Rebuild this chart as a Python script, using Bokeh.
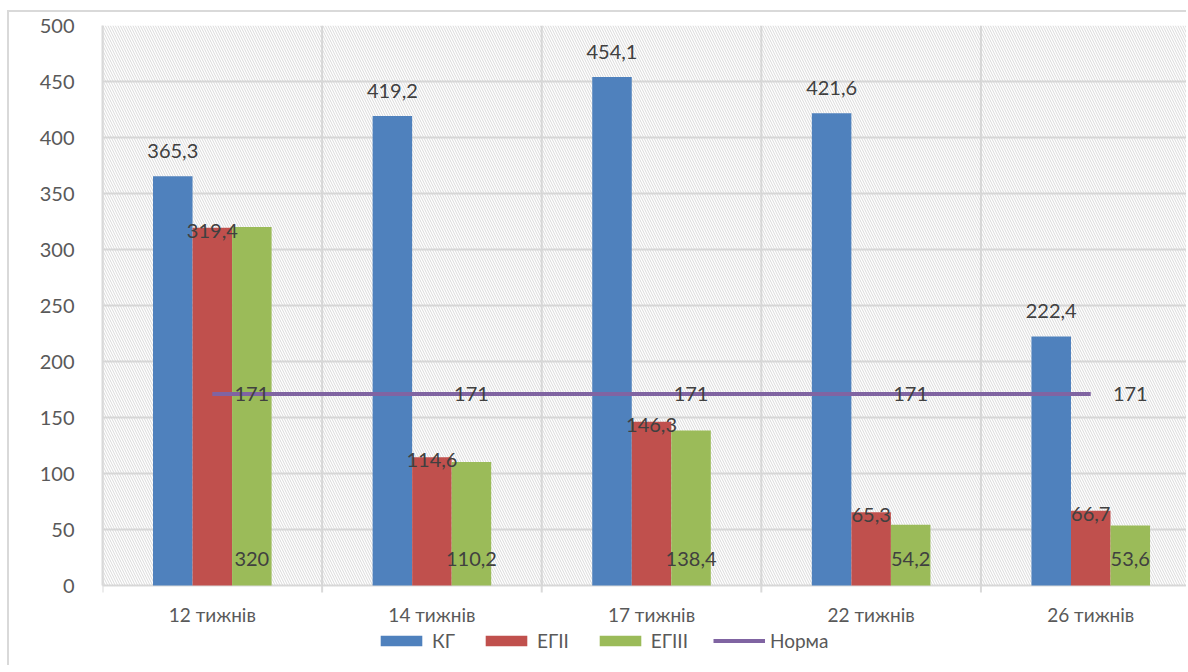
import math
from bokeh.plotting import figure
from bokeh.models import (ColumnDataSource, Range1d, FixedTicker, LabelSet, Legend,
                          LegendItem, BoxAnnotation)
from bokeh.transform import dodge
from bokeh.core.properties import value
from bokeh.embed import file_html
from bokeh.resources import INLINE

categories = ["12 тижнів", "14 тижнів", "17 тижнів", "22 тижнів", "26 тижнів"]
kg = [365.3, 419.2, 454.1, 421.6, 222.4]
eg2 = [319.4, 114.6, 146.3, 65.3, 66.7]
eg3 = [320, 110.2, 138.4, 54.2, 53.6]
norma = [171, 171, 171, 171, 171]
series_names = ["КГ", "ЕГІІ", "ЕГІІІ", "Норма"]
y_ticks = [0, 50, 100, 150, 200, 250, 300, 350, 400, 450, 500]

def fmt(v):
    return f"{v:g}".replace(".", ",")

n = len(categories)
xs = [i + 0.5 for i in range(n)]
src = ColumnDataSource(dict(
    x=xs, cat=categories, kg=kg, eg2=eg2, eg3=eg3, norma=norma,
    kg_t=[fmt(v) for v in kg], eg2_t=[fmt(v) for v in eg2],
    eg3_t=[fmt(v) for v in eg3], norma_t=[fmt(v) for v in norma],
    zero=[0] * n,
))
bounds = list(range(n + 1))
bsrc = ColumnDataSource(dict(x=bounds, y0=[y_ticks[0]] * (n + 1),
                             y1=[y_ticks[-1]] * (n + 1)))

FONT = "Lato"
TXT = "#404040"
AX = "#595959"
GRID = "#d9d9d9"

# y scale: 560 px per 500 units; frame extended below 0 to hold axis labels + legend
FRAME_H = 640
p = figure(frame_width=1084, frame_height=FRAME_H,
           output_backend="svg", toolbar_location=None,
           x_range=Range1d(0, 4.936), y_range=Range1d(500 - FRAME_H * 500 / 560, 500),
           min_border_left=93, min_border_right=0, min_border_top=13,
           min_border_bottom=0)
p.styles = {"margin-left": "7px", "margin-top": "10px",
            "border-left": "2px solid #d9d9d9", "border-top": "2px solid #d9d9d9"}
p.background_fill_color = "white"
p.border_fill_color = "white"
p.outline_line_color = None

# hatched plot background (value area only)
p.add_layout(BoxAnnotation(bottom=y_ticks[0], fill_color="white", fill_alpha=0,
                           line_color=None, hatch_pattern="\\", hatch_color="#d0d0d0",
                           hatch_scale=5, hatch_weight=1, hatch_alpha=0.8,
                           level="underlay"))

# vertical category separators and boundary tick marks
p.segment(x0="x", y0="y0", x1="x", y1="y1", source=bsrc, line_color=GRID, line_width=2,
          level="underlay")
p.scatter(x="x", y="y0", source=bsrc, marker="dash", angle=math.pi / 2, size=14,
          line_color=GRID, line_width=2, level="underlay")

W = 0.18
cols = ["#4f81bd", "#c0504d", "#9bbb59"]
r1 = p.vbar(x=dodge("x", -W, range=p.x_range), top="kg", width=W, source=src,
            fill_color=cols[0], line_color=None)
r2 = p.vbar(x=dodge("x", 0, range=p.x_range), top="eg2", width=W, source=src,
            fill_color=cols[1], line_color=None)
r3 = p.vbar(x=dodge("x", W, range=p.x_range), top="eg3", width=W, source=src,
            fill_color=cols[2], line_color=None)
r4 = p.line(x="x", y="norma", source=src, line_color="#8064a2", line_width=4)

def labels(xcol_off, ycol, tcol, yoff, size="20px", color=TXT):
    return LabelSet(x=dodge("x", xcol_off, range=p.x_range), y=ycol, text=tcol,
                    source=src, y_offset=yoff, text_align="center",
                    text_baseline="middle", text_font=value(FONT),
                    text_font_size=size, text_color=color)

p.add_layout(labels(-W, "kg", "kg_t", 25))
p.add_layout(labels(0, "eg2", "eg2_t", -3))
p.add_layout(labels(W, "zero", "eg3_t", 27))
p.add_layout(labels(W, "norma", "norma_t", 0))
# category labels under the value area
p.add_layout(labels(0, "zero", "cat", -29, size="19px", color=AX))

# axes
p.yaxis.ticker = FixedTicker(ticks=y_ticks)
p.yaxis.bounds = (y_ticks[0], y_ticks[-1])
p.yaxis.axis_line_color = GRID
p.yaxis.axis_line_width = 2
p.yaxis.major_tick_line_color = None
p.yaxis.minor_tick_line_color = None
p.yaxis.major_label_standoff = 22
p.yaxis.major_label_text_font = FONT
p.yaxis.major_label_text_font_size = "20px"
p.yaxis.major_label_text_color = AX
p.xaxis.visible = False

p.ygrid.ticker = FixedTicker(ticks=y_ticks)
p.ygrid.grid_line_color = GRID
p.ygrid.grid_line_width = 2
p.xgrid.grid_line_color = None

legend = Legend(items=[LegendItem(label=series_names[0], renderers=[r1]),
                       LegendItem(label=series_names[1], renderers=[r2]),
                       LegendItem(label=series_names[2], renderers=[r3]),
                       LegendItem(label=series_names[3], renderers=[r4])],
                orientation="horizontal", location=(273, 13),
                glyph_width=52, glyph_height=13, label_standoff=5, spacing=25,
                padding=0, margin=0, border_line_color=None,
                background_fill_alpha=0,
                label_text_font=FONT, label_text_font_size="19px",
                label_text_color=AX)
p.add_layout(legend)

open("out.html", "w").write(file_html(p, INLINE))
